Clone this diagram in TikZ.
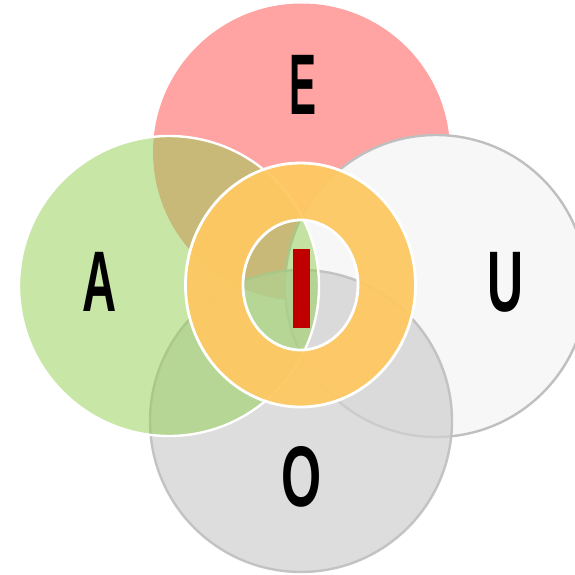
\documentclass[tikz,border=0pt]{standalone}
\usepackage{graphicx}
\usepackage{fontspec}
\setmainfont{Liberation Sans}
\definecolor{cE}{RGB}{255,163,163}
\definecolor{cA}{RGB}{146,208,80}
\definecolor{cU}{RGB}{247,247,247}
\definecolor{cO}{RGB}{209,209,209}
\definecolor{cB}{RGB}{191,191,191}
\definecolor{cI}{RGB}{254,200,98}
\definecolor{cR}{RGB}{192,0,0}
\tikzset{
  letter/.style={font=\bfseries\fontsize{86}{86}\selectfont, anchor=base, inner sep=0pt, text=black},
  ringedge/.style={draw=white, line width=2.8pt},
}
\begin{document}
\begin{tikzpicture}[x=1pt,y=-1pt]
\useasboundingbox (0,0) rectangle (575,574);
\clip (0,0) rectangle (575,574);
% E circle
\fill[cE] (301.5,152) circle [radius=148.5];
% U circle
\filldraw[fill=cU, draw=cB, line width=2.4pt] (436,286) circle [radius=151];
% O circle
\filldraw[fill=cO, fill opacity=0.75, draw=cB, draw opacity=0.9, line width=2.4pt] (301,421) circle [radius=151];
% A circle
\filldraw[fill=cA, fill opacity=0.5, draw=white, line width=2.4pt] (169,286) circle [radius=150];
% I ring
\fill[cI, fill opacity=0.95, even odd rule] (300.5,285) ellipse [x radius=115, y radius=122]
      (300.5,285) ellipse [x radius=57.5, y radius=65];
\draw[ringedge] (300.5,285) ellipse [x radius=115, y radius=122];
\draw[ringedge] (300.5,285) ellipse [x radius=57.5, y radius=65];
% I bar
\node[fill=cR, minimum width=17pt, minimum height=79pt, inner sep=0pt] (I) at (301.5,288.5) {};
% letters
\node[letter] (E) at (303,114) {\scalebox{0.47}[1]{E}};
\node[letter] (A) at (100,311) {\scalebox{0.55}[1]{A}};
\node[letter] (U) at (505.5,311.5) {\scalebox{0.58}[1]{U}};
\node[letter] (O) at (301.5,506) {\scalebox{0.6}[1]{O}};
\end{tikzpicture}
\end{document}
